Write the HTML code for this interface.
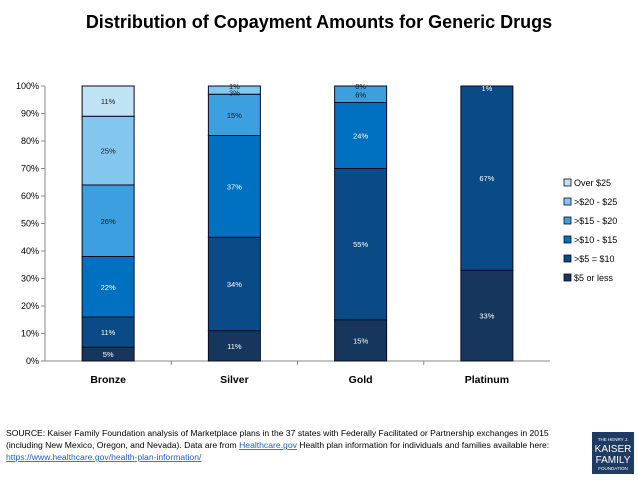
<!DOCTYPE html>
<html><head><meta charset="utf-8">
<style>
body{margin:0;background:#fff;font-family:"Liberation Sans",sans-serif;}
svg text{font-family:"Liberation Sans",sans-serif;}
</style></head>
<body>
<svg width="638" height="479">
<text x="319" y="28" text-anchor="middle" font-size="18" font-weight="bold" fill="#000">Distribution of Copayment Amounts for Generic Drugs</text>
<g id="axes"></g>
<g id="bars"></g>
<g id="legend"></g>
<text x="6" y="436" font-size="8.6" fill="#000">SOURCE: Kaiser Family Foundation analysis of Marketplace plans in the 37 states with Federally Facilitated or Partnership exchanges in 2015</text>
<text x="6" y="448" font-size="8.6" fill="#000">(including New Mexico, Oregon, and Nevada). Data are from <tspan fill="#1f5fbf" text-decoration="underline">Healthcare.gov</tspan> Health plan information for individuals and families available here:</text>
<text x="6" y="460" font-size="8.6" fill="#1f5fbf" text-decoration="underline">https://www.healthcare.gov/health-plan-information/</text>
<g>
<rect x="592" y="432" width="42" height="42" fill="#1f3a63"/>
<text x="613" y="441" font-size="4.5" fill="#fff" text-anchor="middle" font-family="Liberation Serif">THE HENRY J.</text>
<text x="613" y="452" font-size="10" fill="#fff" text-anchor="middle" font-family="Liberation Serif">KAISER</text>
<text x="613" y="463" font-size="10" fill="#fff" text-anchor="middle" font-family="Liberation Serif">FAMILY</text>
<text x="613" y="470" font-size="4.5" fill="#fff" text-anchor="middle" font-family="Liberation Serif">FOUNDATION</text>
</g>
</svg>
<script>
const categories=["Bronze","Silver","Gold","Platinum"];
const seriesNames=["$5 or less",">$5 = $10",">$10 - $15",">$15 - $20",">$20 - $25","Over $25"];
const s5orLess=[5,11,15,33];
const s5to10=[11,34,55,67];
const s10to15=[22,37,24,1];
const s15to20=[26,15,6,0];
const s20to25=[25,3,0,0];
const sOver25=[11,1,0,0];
const yTicks=[0,10,20,30,40,50,60,70,80,90,100];
const series=[s5orLess,s5to10,s10to15,s15to20,s20to25,sOver25];
const colors=["#17365d","#0a4a86","#0070c0","#3b9fe0","#83c6ee","#bfe2f5"];
const textColors=["#fff","#fff","#fff","#1a1a1a","#1a1a1a","#1a1a1a"];
const NS="http://www.w3.org/2000/svg";
const x0=45,x1=550,y0=361,y1=86;
const y=v=>y0-(y0-y1)*v/100;
const band=(x1-x0)/categories.length;
const cx=i=>x0+band*(i+0.5);
const bw=52;
function mk(tag,attrs,parent){const e=document.createElementNS(NS,tag);for(const k in attrs)e.setAttribute(k,attrs[k]);parent.appendChild(e);return e;}
const axes=document.getElementById('axes');
let ax=mk('line',{x1:x0,x2:x0,y1:y1,y2:y0,stroke:'#888'},axes);


let bx=mk('line',{x1:x0,x2:x1,y1:y0,y2:y0,stroke:'#888'},axes);


yTicks.forEach(t=>{
  mk('line',{x1:x0-4,x2:x0,y1:y(t),y2:y(t),stroke:'#888'},axes);
  const tx=mk('text',{x:x0-6,y:y(t)+3,'text-anchor':'end','font-size':'9',fill:'#000'},axes);
  tx.textContent=t+'%';
  
  
});
for(let i=1;i<categories.length;i++) mk('line',{x1:x0+band*i,x2:x0+band*i,y1:y0,y2:y0+4,stroke:'#888'},axes);
const bars=document.getElementById('bars');
categories.forEach((c,i)=>{
  const lab=mk('text',{x:cx(i),y:y0+22,'text-anchor':'middle','font-size':'10.5','font-weight':'bold',fill:'#000'},bars);
  lab.textContent=c;
  
  
  let cum=0;
  series.forEach((s,j)=>{
    const v=s[i];
    const top=Math.min(cum+v,100);
    if(v>0||(j===5&&i===2)){
      const r=mk('rect',{x:cx(i)-bw/2,y:y(top),width:bw,height:Math.max(0,y(cum)-y(top)),fill:colors[j],stroke:'#0a0a20','stroke-width':'1'},bars);
      
      
      let ly=(y(cum)+y(top))/2+3;
      let col=textColors[j];
      if(v<=3){
        ly=(j===5||v<=1)?y(cum)+3:y(cum)+1;
        if(cum>=100&&j<3){ly=y(cum)+5;}
        col=j<3?'#fff':'#1a1a1a';
      }
      const t=mk('text',{x:cx(i),y:ly,'text-anchor':'middle','font-size':'7.5',fill:col},bars);
      t.textContent=v+'%';
      
      
    }
    cum=top;
  });
});
const lg=document.getElementById('legend');
for(let j=5;j>=0;j--){
  const ly=186+(5-j)*19;
  const r=mk('rect',{x:564,y:ly-7,width:7,height:7,fill:colors[j],stroke:'#0a0a20','stroke-width':'0.8'},lg);
  
  
  const t=mk('text',{x:574,y:ly,'font-size':'9',fill:'#000'},lg);
  t.textContent=seriesNames[j];
  
  
}
</script>
</body></html>
